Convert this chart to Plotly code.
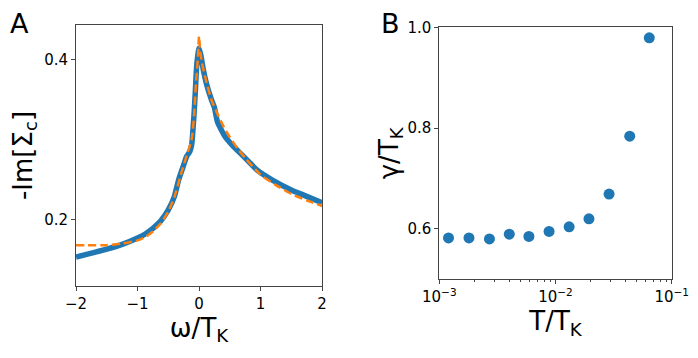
import plotly.graph_objects as go
from plotly.subplots import make_subplots

# panel A: self-energy vs frequency
omega_num = [-2.0, -1.75, -1.5, -1.25, -1.0, -0.875, -0.75, -0.625, -0.5, -0.4, -0.33,
             -0.25, -0.2, -0.15, -0.12, -0.08, -0.06, -0.04, -0.02, 0.0, 0.03, 0.07,
             0.12, 0.2, 0.25, 0.3, 0.42, 0.55, 0.67, 0.8, 0.94, 1.2, 1.5, 1.75, 2.0]
sigma_num = [0.153, 0.158, 0.163, 0.169, 0.177, 0.182, 0.189, 0.198, 0.212, 0.229, 0.25,
             0.268, 0.279, 0.285, 0.293, 0.333, 0.36, 0.39, 0.405, 0.414, 0.405, 0.387,
             0.37, 0.35, 0.34, 0.322, 0.304, 0.292, 0.283, 0.273, 0.262, 0.249, 0.237,
             0.229, 0.221]

omega_fit = [-2.0, -1.5, -1.25, -1.0, -0.875, -0.75, -0.625, -0.5, -0.4, -0.3, -0.2,
             -0.12, -0.08, -0.05, -0.02, 0.0, 0.02, 0.05, 0.1, 0.2, 0.3, 0.4, 0.5,
             0.625, 0.75, 1.0, 1.25, 1.5, 1.75, 2.0]
sigma_fit = [0.168, 0.168, 0.170, 0.174, 0.178, 0.185, 0.195, 0.21, 0.228, 0.255, 0.28,
             0.30, 0.33, 0.37, 0.40, 0.429, 0.41, 0.395, 0.378, 0.35, 0.332, 0.316,
             0.303, 0.289, 0.277, 0.256, 0.243, 0.232, 0.224, 0.217]

# panel B: broadening vs temperature
temp = [1.2e-3, 1.8e-3, 2.7e-3, 4.0e-3, 5.9e-3, 8.8e-3, 1.31e-2, 1.94e-2, 2.89e-2,
        4.35e-2, 6.41e-2]
gamma = [0.582, 0.582, 0.580, 0.5895, 0.585, 0.595, 0.604, 0.620, 0.669, 0.784, 0.979]

BLUE = '#1f77b4'
ORANGE = '#ff7f0e'
FONT = 'DejaVu Sans'

# the page body has an 8px margin, so the figure is 690x350 and sits at (8, 8)
fig = make_subplots(rows=1, cols=2)

fig.add_trace(go.Scatter(x=omega_num, y=sigma_num, mode='lines',
                         line=dict(color=BLUE, width=5.5, shape='spline', smoothing=0.5)),
              row=1, col=1)
fig.add_trace(go.Scatter(x=omega_fit, y=sigma_fit, mode='lines',
                         line=dict(color=ORANGE, width=2.5, dash='8px,4px',
                                   shape='spline', smoothing=0.5)),
              row=1, col=1)
fig.add_trace(go.Scatter(x=temp, y=gamma, mode='markers',
                         marker=dict(color=BLUE, size=11)), row=1, col=2)

axis_common = dict(showline=True, linecolor='#444', linewidth=1, mirror=True,
                   ticks='outside', ticklen=4, tickcolor='#444', showgrid=False,
                   zeroline=False, automargin=False,
                   tickfont=dict(family=FONT, size=15, color='black'))

fig.update_xaxes(domain=[0.0986, 0.4551], range=[-2, 2], tickvals=[-2, -1, 0, 1, 2],
                 ticktext=['\u22122', '\u22121', '0', '1', '2'],
                 title=dict(text='\u03c9/T<sub>K</sub>', standoff=2,
                            font=dict(family=FONT, size=26, color='black')),
                 row=1, col=1, **axis_common)
fig.update_yaxes(domain=[0.2057, 0.9514], range=[0.117, 0.443], tickvals=[0.2, 0.4],
                 ticktext=['0.2', '0.4'],
                 title=dict(text='-Im[\u03a3<sub>c</sub>]', standoff=8,
                            font=dict(family=FONT, size=26, color='black')),
                 row=1, col=1, **axis_common)

fig.update_xaxes(domain=[0.6251, 0.9619], type='log', range=[-3, -1],
                 tickvals=[1e-3, 1e-2, 1e-1],
                 ticktext=['10<sup>\u22123</sup>', '10<sup>\u22122</sup>', '10<sup>\u22121</sup>'],
                 minor=dict(ticks='outside', ticklen=2, tickcolor='#444', dtick='D1',
                            showgrid=False),
                 title=dict(text='T/T<sub>K</sub>', standoff=0,
                            font=dict(family=FONT, size=26, color='black')),
                 row=1, col=2, **axis_common)
fig.update_yaxes(domain=[0.2249, 0.9449], range=[0.5, 1.0], tickvals=[0.6, 0.8, 1.0],
                 ticktext=['0.6', '0.8', '1.0'],
                 title=dict(text='\u03b3/T<sub>K</sub>', standoff=1,
                            font=dict(family=FONT, size=26, color='black')),
                 row=1, col=2, **axis_common)

fig.add_annotation(text='A', x=0.0, y=1.0, xref='paper', yref='paper', xanchor='left',
                   yanchor='top', showarrow=False, yshift=2,
                   font=dict(family=FONT, size=27, color='black'))
fig.add_annotation(text='B', x=0.5377, y=1.0, xref='paper', yref='paper', xanchor='left',
                   yanchor='top', showarrow=False, yshift=2,
                   font=dict(family=FONT, size=27, color='black'))

fig.update_layout(width=690, height=350, margin=dict(l=0, r=0, t=0, b=0),
                  plot_bgcolor='white', paper_bgcolor='white', showlegend=False,
                  font=dict(family=FONT, color='black'))

fig.write_html('out.html')
